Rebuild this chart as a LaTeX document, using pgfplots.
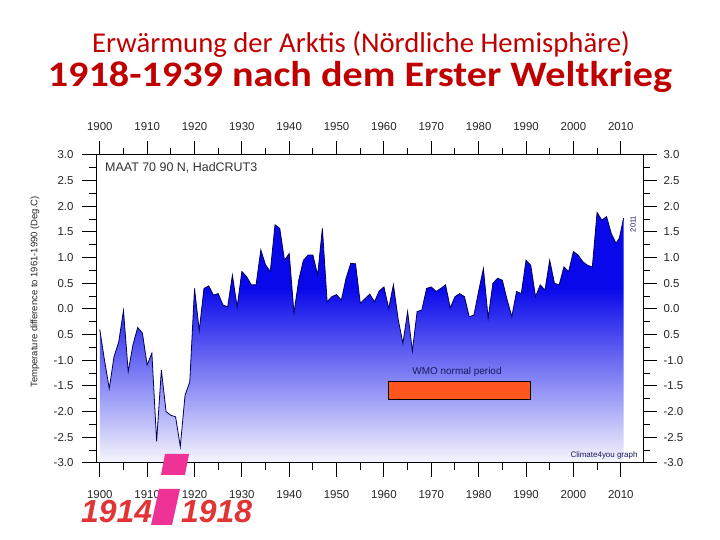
\documentclass[border=0pt]{standalone}
\usepackage{fontspec}
\setmainfont{Liberation Sans}
\newfontfamily\calibri{Carlito}
\usepackage{pgfplots}
\pgfplotsset{compat=1.18}
\usepackage{pgfplotstable}

\definecolor{titlered}{RGB}{192,0,0}
\definecolor{areablue}{RGB}{8,8,235}
\definecolor{areapale}{RGB}{246,246,253}
\definecolor{curvenavy}{RGB}{0,0,90}
\definecolor{wmoorange}{RGB}{255,85,30}
\definecolor{warpink}{RGB}{238,50,150}
\definecolor{warred}{RGB}{226,52,52}
\definecolor{notenavy}{RGB}{25,25,95}

\pgfdeclareverticalshading{arcticfill}{100bp}{color(0bp)=(areapale); color(25bp)=(areapale); color(60bp)=(areablue); color(100bp)=(areablue)}

% MAAT 70-90N, HadCRUT3
\pgfplotstableread{
year anomaly
1900 -0.40
1901 -1.00
1902 -1.55
1903 -0.93
1904 -0.64
1905 -0.03
1906 -1.22
1907 -0.70
1908 -0.36
1909 -0.47
1910 -1.09
1911 -0.86
1912 -2.58
1913 -1.19
1914 -2.00
1915 -2.07
1916 -2.10
1917 -2.68
1918 -1.68
1919 -1.42
1920 0.40
1921 -0.42
1922 0.40
1923 0.45
1924 0.27
1925 0.30
1926 0.08
1927 0.04
1928 0.66
1929 0.04
1930 0.73
1931 0.63
1932 0.47
1933 0.47
1934 1.15
1935 0.86
1936 0.73
1937 1.64
1938 1.57
1939 0.95
1940 1.08
1941 -0.08
1942 0.56
1943 0.95
1944 1.05
1945 1.05
1946 0.66
1947 1.57
1948 0.14
1949 0.24
1950 0.28
1951 0.17
1952 0.60
1953 0.89
1954 0.88
1955 0.11
1956 0.20
1957 0.29
1958 0.14
1959 0.35
1960 0.43
1961 0.01
1962 0.47
1963 -0.20
1964 -0.67
1965 -0.05
1966 -0.82
1967 -0.05
1968 -0.02
1969 0.40
1970 0.43
1971 0.34
1972 0.40
1973 0.47
1974 0.02
1975 0.24
1976 0.30
1977 0.24
1978 -0.15
1979 -0.12
1980 0.35
1981 0.79
1982 -0.18
1983 0.50
1984 0.60
1985 0.56
1986 0.18
1987 -0.15
1988 0.34
1989 0.30
1990 0.95
1991 0.85
1992 0.24
1993 0.47
1994 0.37
1995 0.95
1996 0.50
1997 0.47
1998 0.82
1999 0.73
2000 1.12
2001 1.05
2002 0.92
2003 0.85
2004 0.82
2005 1.88
2006 1.73
2007 1.80
2008 1.47
2009 1.28
2009.7 1.38
2010.6 1.77
}\maat

\pgfplotsset{
  arctic/.style={
    scale only axis, width=547bp, height=308bp,
    xmin=1899.2, xmax=2014.7, ymin=-3, ymax=3,
    xtick={1900,1910,1920,1930,1940,1950,1960,1970,1980,1990,2000,2010},
    xticklabels={1900,1910,1920,1930,1940,1950,1960,1970,1980,1990,2000,2010},
    minor x tick num=1,
    ytick={-3,-2.5,-2,-1.5,-1,-0.5,0,0.5,1,1.5,2,2.5,3},
    yticklabels={-3.0,-2.5,-2.0,-1.5,-1.0,0.5,0.0,0.5,1.0,1.5,2.0,2.5,3.0},
    minor y tick num=1,
    tick align=outside, tick pos=both,
    major tick length=14bp, minor tick length=7bp,
    every tick/.style={black, line width=1pt},
    axis line style={black, line width=1pt},
    tick label style={font=\fontsize{11.5}{13}\selectfont, text=black!85},
    clip=false,
  }
}

\begin{document}
\begin{tikzpicture}[x=1bp,y=1bp]
\path[use as bounding box] (0,0) rectangle (720,540);
\fill[white] (0,0) rectangle (720,540);

\node[anchor=base, inner sep=0, text=titlered, font=\calibri\fontsize{28.8}{34}\selectfont] at (361,487) {Erwärmung der Arktis (Nördliche Hemisphäre)};
\node[anchor=base, inner sep=0, xscale=1.12, text=titlered, font=\calibri\bfseries\fontsize{36}{42}\selectfont] at (360,453) {1918-1939 nach dem Erster Weltkrieg};

\begin{axis}[arctic, at={(96bp,77bp)}, anchor=south west,
  xticklabel pos=lower, yticklabel pos=left,
  xticklabel style={yshift=-10bp}, yticklabel style={xshift=-5bp}]
  \addplot[draw=none, shading=arcticfill] table[x=year, y=anomaly] {\maat} |- (axis cs:1900,-3) -- cycle;
  \addplot[curvenavy, line width=0.8pt] table[x=year, y=anomaly] {\maat};
  \addplot[fill=wmoorange, draw=black, line width=1pt] coordinates {(1961,-1.42) (1991,-1.42) (1991,-1.76) (1961,-1.76)} -- cycle;
\end{axis}
\begin{axis}[arctic, at={(96bp,77bp)}, anchor=south west,
  xticklabel pos=upper, yticklabel pos=right,
  xticklabel style={yshift=7bp}, yticklabel style={xshift=3bp}]
\end{axis}

\node[anchor=west, inner sep=0, text=black!80, font=\fontsize{12.5}{14}\selectfont] at (105,372) {MAAT 70 90 N, HadCRUT3};
\node[text=notenavy, inner sep=0, font=\fontsize{10}{12}\selectfont] at (457,168) {WMO normal period};
\node[text=notenavy, inner sep=0, font=\fontsize{8}{9}\selectfont] at (604,85) {Climate4you graph};
\node[text=notenavy, inner sep=0, rotate=90, font=\fontsize{7.5}{9}\selectfont] at (633,316) {2011};
\node[text=black!85, inner sep=0, rotate=90, font=\fontsize{9.5}{11}\selectfont] at (35,248) {Temperature difference to 1961-1990 (Deg.C)};

\fill[warpink] (165,86) -- (189,86) -- (185,65) -- (161,65) -- cycle;
\fill[warpink] (159,51) -- (180,51) -- (172,15) -- (151,15) -- cycle;
\node[anchor=base west, inner sep=0, text=warred, font=\bfseries\itshape\fontsize{32}{36}\selectfont] at (81,17) {1914};
\node[anchor=base west, inner sep=0, text=warred, font=\bfseries\itshape\fontsize{32}{36}\selectfont] at (181,17) {1918};
\end{tikzpicture}
\end{document}
